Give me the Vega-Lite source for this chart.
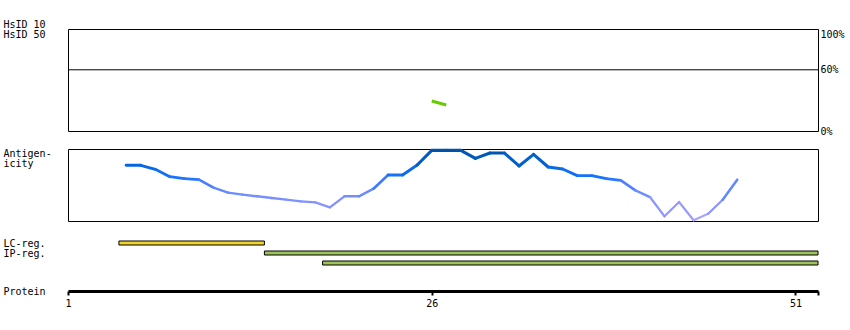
{
  "$schema": "https://vega.github.io/schema/vega-lite/v6.json",
  "padding": {"left": 2, "top": 18, "right": 5, "bottom": 5},
  "background": "white",
  "config": {
    "font": "DejaVu Sans Mono",
    "axis": {"labelFont": "DejaVu Sans Mono", "labelFontSize": 10, "titleFont": "DejaVu Sans Mono", "titleFontSize": 10, "titleFontWeight": "normal", "labelColor": "black", "titleColor": "black"},
    "view": {"stroke": "black", "strokeWidth": 1}
  },
  "datasets": {
    "hsid": [{"pos": 26, "identity": 29.4}, {"pos": 27, "identity": 25.5}],
    "antigen": [
      {"pos": 5, "value": 0.774}, {"pos": 6, "value": 0.774}, {"pos": 7, "value": 0.718}, {"pos": 8, "value": 0.615},
      {"pos": 9, "value": 0.588}, {"pos": 10, "value": 0.574}, {"pos": 11, "value": 0.463}, {"pos": 12, "value": 0.394},
      {"pos": 13, "value": 0.366}, {"pos": 14, "value": 0.343}, {"pos": 15, "value": 0.319}, {"pos": 16, "value": 0.296},
      {"pos": 17, "value": 0.273}, {"pos": 18, "value": 0.259}, {"pos": 19, "value": 0.19}, {"pos": 20, "value": 0.343},
      {"pos": 21, "value": 0.343}, {"pos": 22, "value": 0.449}, {"pos": 23, "value": 0.639}, {"pos": 24, "value": 0.639},
      {"pos": 25, "value": 0.778}, {"pos": 26, "value": 0.98}, {"pos": 27, "value": 0.98}, {"pos": 28, "value": 0.98},
      {"pos": 29, "value": 0.87}, {"pos": 30, "value": 0.944}, {"pos": 31, "value": 0.944}, {"pos": 32, "value": 0.764},
      {"pos": 33, "value": 0.926}, {"pos": 34, "value": 0.75}, {"pos": 35, "value": 0.722}, {"pos": 36, "value": 0.63},
      {"pos": 37, "value": 0.63}, {"pos": 38, "value": 0.588}, {"pos": 39, "value": 0.565}, {"pos": 40, "value": 0.426},
      {"pos": 41, "value": 0.333}, {"pos": 42, "value": 0.065}, {"pos": 43, "value": 0.264}, {"pos": 44, "value": 0.01},
      {"pos": 45, "value": 0.1}, {"pos": 46, "value": 0.296}, {"pos": 47, "value": 0.574}
    ],
    "regions": [
      {"region": "LC", "lane": 1, "start": 4.5, "end": 14.5},
      {"region": "IP", "lane": 2, "start": 14.5, "end": 52.55},
      {"region": "IP", "lane": 3, "start": 18.5, "end": 52.55}
    ]
  },
  "spacing": 18,
  "bounds": "flush",
  "vconcat": [
    {
      "width": 750,
      "height": 102,
      "layer": [
        {
          "data": {"values": [{"pct": 60}]},
          "mark": {"type": "rule", "color": "black", "strokeWidth": 1},
          "encoding": {
            "y": {"field": "pct", "type": "quantitative", "scale": {"domain": [0, 100], "nice": false},
              "axis": {"orient": "left", "labels": false, "ticks": false, "domain": false, "grid": false,
                "title": ["HsID 10", "HsID 50"], "titleAngle": 0, "titleAlign": "left", "titleBaseline": "top",
                "titleX": -65, "titleY": -10, "titleLineHeight": 10}}
          }
        },
        {
          "data": {"name": "hsid"},
          "mark": {"type": "line", "color": "#66cc00", "strokeWidth": 3},
          "encoding": {
            "x": {"field": "pos", "type": "quantitative", "scale": {"domain": [1, 52.55], "nice": false, "zero": false}, "axis": null},
            "y": {"field": "identity", "type": "quantitative",
              "axis": {"orient": "right", "values": [0, 60, 100], "labelExpr": "datum.value + '%'", "ticks": false, "domain": false, "grid": false,
                "title": null, "labelPadding": 2, "labelBaseline": {"condition": {"test": "datum.value == 100", "value": "top"}, "value": "middle"}}}
          }
        }
      ],
      "resolve": {"axis": {"y": "independent"}}
    },
    {
      "width": 750,
      "height": 72,
      "data": {"name": "antigen"},
      "transform": [
        {"window": [{"op": "lead", "field": "pos", "as": "pos2"}, {"op": "lead", "field": "value", "as": "value2"}], "sort": [{"field": "pos"}]},
        {"window": [{"op": "mean", "field": "value", "as": "mid"}], "frame": [0, 1], "sort": [{"field": "pos"}]},
        {"filter": "datum.pos2 != null"}
      ],
      "mark": {"type": "rule", "strokeCap": "round"},
      "encoding": {
        "x": {"field": "pos", "type": "quantitative", "scale": {"domain": [1, 52.55], "nice": false, "zero": false}, "axis": null},
        "x2": {"field": "pos2"},
        "y": {"field": "value", "type": "quantitative", "scale": {"domain": [0, 1], "nice": false},
          "axis": {"labels": false, "ticks": false, "domain": false, "grid": false, "title": ["Antigen-", "icity"],
            "titleAngle": 0, "titleAlign": "left", "titleBaseline": "top", "titleX": -65, "titleY": -1, "titleLineHeight": 10}},
        "y2": {"field": "value2"},
        "color": {"field": "mid", "type": "quantitative",
          "scale": {"domain": [0, 0.2, 0.4, 0.6, 0.8, 1], "range": ["#b4a8ff", "#8c94ff", "#6a8cff", "#1874ff", "#0064dc", "#0050a0"]}, "legend": null},
        "size": {"field": "mid", "type": "quantitative", "scale": {"domain": [0, 1], "range": [2, 3.2]}, "legend": null}
      }
    },
    {
      "width": 750,
      "height": 52,
      "view": {"stroke": null},
      "data": {"name": "regions"},
      "mark": {"type": "bar", "orient": "horizontal", "height": 4, "stroke": "black", "strokeWidth": 1},
      "encoding": {
        "x": {"field": "start", "type": "quantitative", "scale": {"domain": [1, 52.55], "nice": false, "zero": false},
          "axis": {"values": [1, 26, 51, 52.55], "labelExpr": "datum.value > 52 ? '' : datum.label", "domainWidth": 3, "domainColor": "black",
            "tickColor": "black", "tickWidth": 2, "tickSize": 4, "labelPadding": 3, "grid": false, "labelFlush": false, "labelOverlap": false,
            "title": "Protein", "titleAngle": 0, "titleAlign": "left", "titleBaseline": "middle", "titleX": -65, "titleY": 0}},
        "x2": {"field": "end"},
        "y": {"field": "lane", "type": "quantitative", "scale": {"domain": [0.6, 5.8], "reverse": true, "nice": false, "zero": false, "padding": 0},
          "axis": {"values": [1, 2], "labelExpr": "datum.value == 1 ? 'LC-reg.' : 'IP-reg.'", "ticks": false, "tickSize": 0, "domain": false, "grid": false,
            "labelAlign": "left", "labelPadding": 65, "labelBaseline": "middle", "labelOverlap": false, "title": null}},
        "color": {"field": "region", "type": "nominal", "scale": {"domain": ["LC", "IP"], "range": ["#f1d52d", "#9fc35b"]}, "legend": null}
      }
    }
  ]
}
